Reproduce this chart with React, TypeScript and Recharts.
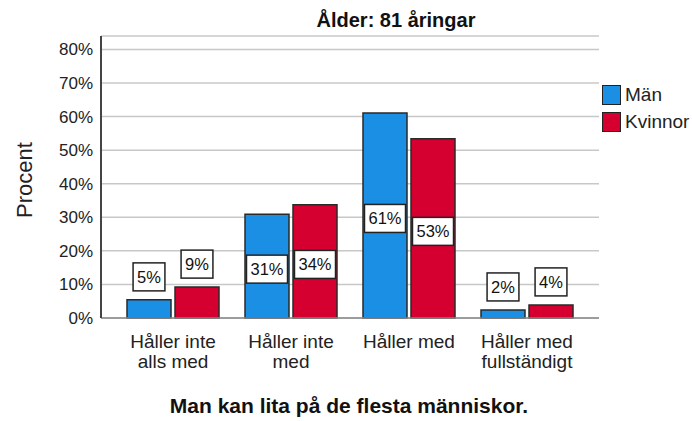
import React from "react";
import {
  BarChart,
  Bar,
  XAxis,
  YAxis,
  CartesianGrid,
  Legend,
  LabelList
} from "recharts";

const categories = [
  "Håller inte alls med",
  "Håller inte med",
  "Håller med",
  "Håller med fullständigt"
];
const tickLines = [
  ["Håller inte", "alls med"],
  ["Håller inte", "med"],
  ["Håller med"],
  ["Håller med", "fullständigt"]
];
const man = [5.4, 30.9, 61.1, 2.4];
const kvinnor = [9.2, 33.7, 53.4, 3.9];
const yTicks = [0, 10, 20, 30, 40, 50, 60, 70, 80];

const FONT = '"Liberation Sans", Arial, sans-serif';
const BLUE = "#1a8fe3";
const RED = "#d5002f";

const data = categories.map((c, i) => ({
  name: c,
  man: man[i],
  kvinnor: kvinnor[i]
}));

function XTick(props: any) {
  const { x, y, payload } = props;
  const lines = tickLines[payload.index] || [payload.value];
  return (
    <text x={x} y={y} textAnchor="middle" fontSize={19} fill="#222" fontFamily={FONT}>
      {lines.map((l, i) => (
        <tspan key={i} x={x} y={y + 22 + i * 20}>
          {l}
        </tspan>
      ))}
    </text>
  );
}

function ValueBox(props: any) {
  const { x, y, width, height, value } = props;
  const txt = Math.round(value) + "%";
  const fs = 16.5;
  const digits = txt.length - 1;
  const w = (digits * 0.556 + 0.889) * fs + 8;
  const h = 28;
  const cx = x + width / 2;
  const cy = height > 45 ? y + height / 2 + 3 : y - 23;
  return (
    <g>
      <rect x={cx - w / 2} y={cy - h / 2} width={w} height={h} fill="#fff" stroke="#222" strokeWidth={1.5} />
      <text x={cx} y={cy + 6} textAnchor="middle" fontSize={fs} fill="#111" fontFamily={FONT}>
        {txt}
      </text>
    </g>
  );
}

function LegendBox() {
  const items = [
    { label: "Män", color: BLUE },
    { label: "Kvinnor", color: RED }
  ];
  return (
    <div style={{ fontFamily: FONT }}>
      {items.map((it) => (
        <div key={it.label} style={{ display: "flex", alignItems: "center", height: 27 }}>
          <div
            style={{
              width: 17,
              height: 18,
              background: it.color,
              border: "1.5px solid #222",
              marginRight: 4
            }}
          />
          <span style={{ fontSize: 19, color: "#222", whiteSpace: "nowrap" }}>{it.label}</span>
        </div>
      ))}
    </div>
  );
}

export default function App() {
  return (
    <div style={{ position: "absolute", left: 0, top: 0, width: 692, height: 421, background: "#fff" }}>
      <svg style={{ position: "absolute", left: 0, top: 0 }} width={692} height={40}>
        <text x={396} y={27} textAnchor="middle" fontSize={20} fontWeight="bold" fill="#111" fontFamily={FONT}>
          Ålder: 81 åringar
        </text>
      </svg>
      <BarChart
        width={692}
        height={421}
        data={data}
        margin={{ top: 36, right: 93, bottom: 0, left: 41 }}
        barCategoryGap={13}
        barGap={4}
        style={{ position: "absolute", left: 0, top: 0 }}
      >
        <CartesianGrid vertical={false} stroke="#c8c8c8" strokeWidth={1.5} />
        <XAxis
          dataKey="name"
          height={103}
          padding={{ left: 13, right: 13 }}
          tickLine={false}
          axisLine={{ stroke: "#888", strokeWidth: 1.5 }}
          tick={<XTick />}
          interval={0}
          label={{
            content: () => (
              <text x={349} y={413} textAnchor="middle" fontSize={21} fontWeight="bold" fill="#111" fontFamily={FONT}>
                Man kan lita på de flesta människor.
              </text>
            )
          }}
        />
        <YAxis
          width={60}
          domain={[0, 84]}
          ticks={yTicks}
          tickFormatter={(v) => v + "%"}
          tickLine={false}
          axisLine={{ stroke: "#444", strokeWidth: 2 }}
          tick={{ fontSize: 17, fill: "#222", fontFamily: FONT }}
          label={{
            content: () => (
              <text
                x={32}
                y={180}
                transform="rotate(-90 32 180)"
                textAnchor="middle"
                fontSize={22}
                fill="#222"
                fontFamily={FONT}
              >
                Procent
              </text>
            )
          }}
        />
        <Legend
          layout="vertical"
          align="center"
          verticalAlign="middle"
          content={<LegendBox />}
          wrapperStyle={{ left: 602, top: 81, width: 90 }}
        />
        <Bar dataKey="man" name="Män" fill={BLUE} stroke="#2a2a2a" strokeWidth={1.5} isAnimationActive={false}>
          <LabelList dataKey="man" content={<ValueBox />} />
        </Bar>
        <Bar dataKey="kvinnor" name="Kvinnor" fill={RED} stroke="#2a2a2a" strokeWidth={1.5} isAnimationActive={false}>
          <LabelList dataKey="kvinnor" content={<ValueBox />} />
        </Bar>
      </BarChart>
    </div>
  );
}
